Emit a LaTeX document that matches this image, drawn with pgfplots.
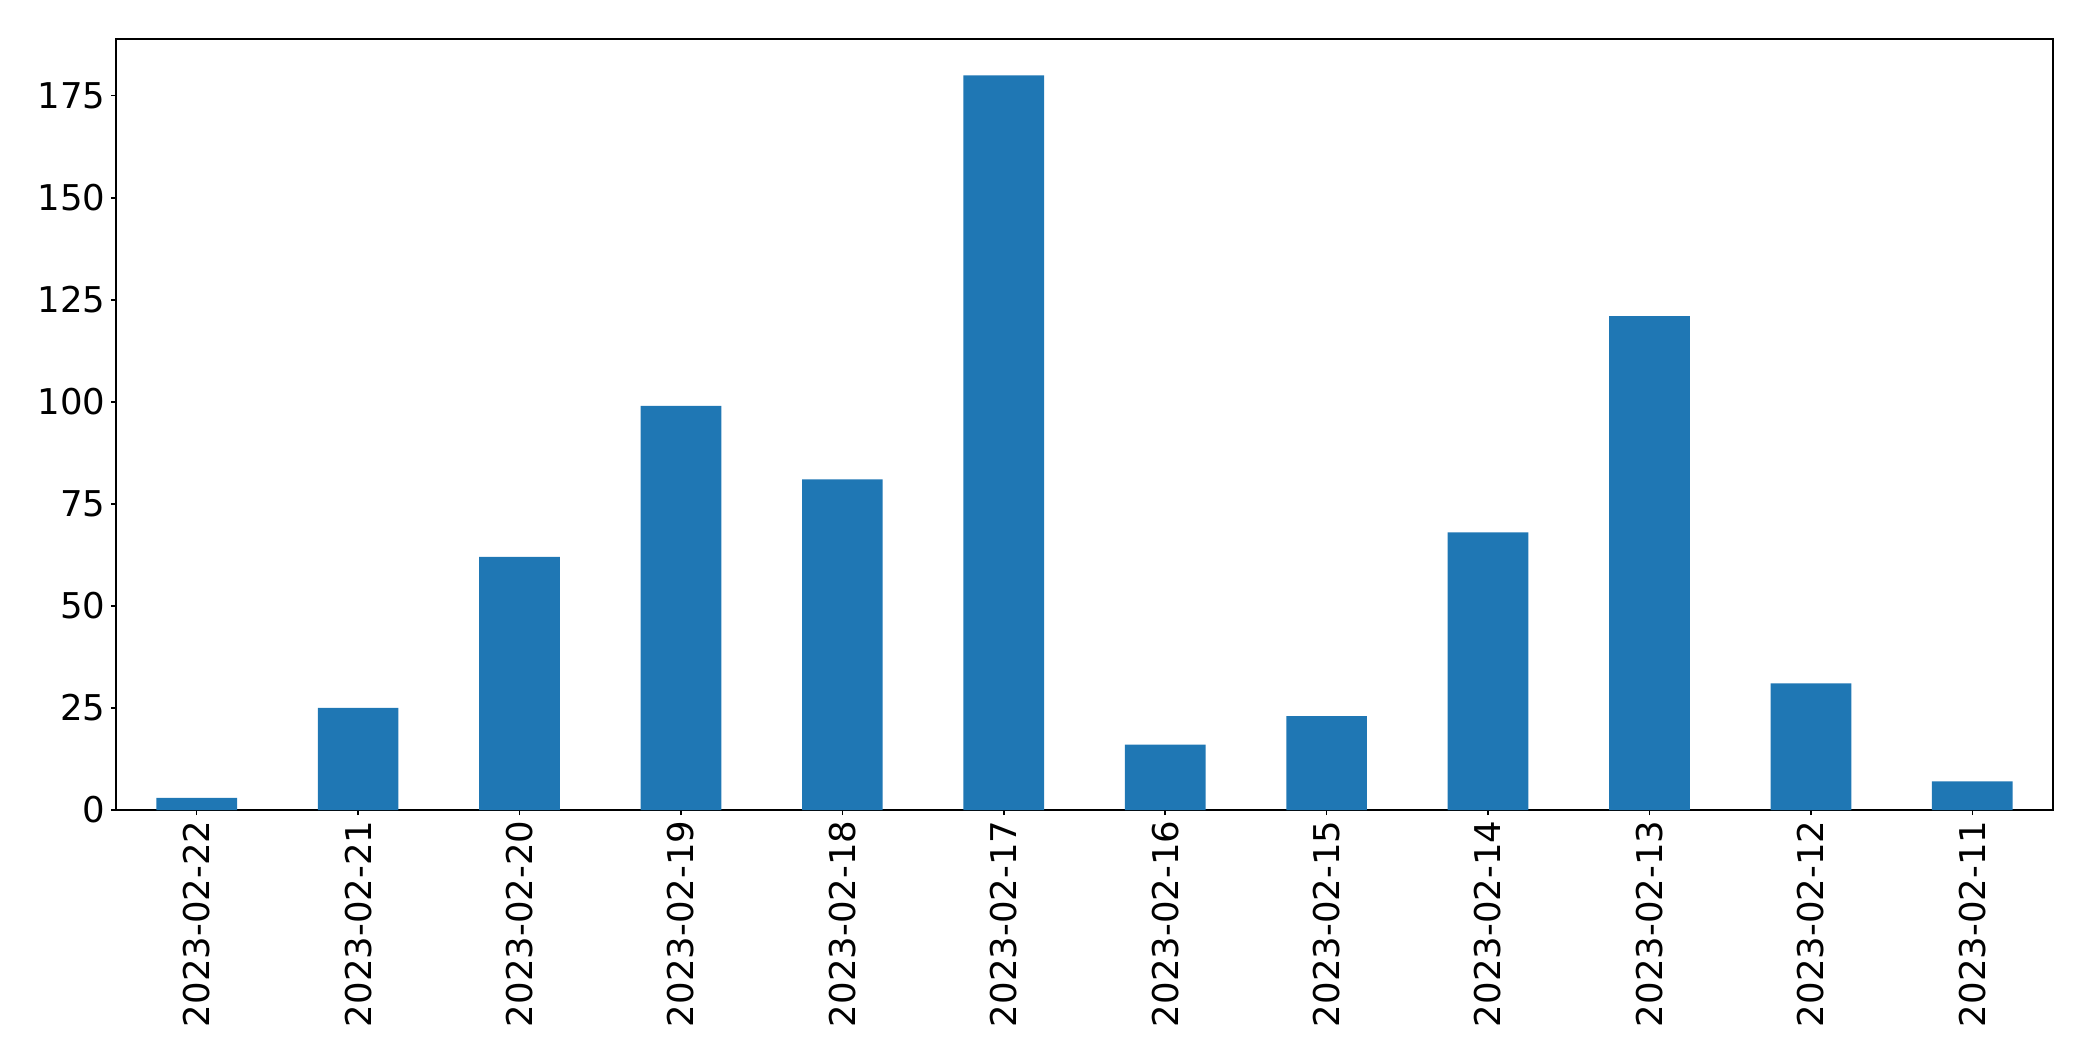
\documentclass[border=0pt]{standalone}
\usepackage{pgfplots}
\pgfplotsset{compat=1.18}
\usepackage{fontspec}
\setmainfont{DejaVu Sans}
\definecolor{mplblue}{HTML}{1F77B4}
\begin{document}
\fontsize{10.1}{12}\selectfont
\begin{tikzpicture}
\begin{axis}[
  at={(0,0)}, anchor=south west,
  scale only axis,
  width=193.7mm, height=77.1mm,
  xmin=-0.5, xmax=11.5,
  ymin=0, ymax=188.9,
  xtick={0,...,11},
  xticklabels={2023-02-22,2023-02-21,2023-02-20,2023-02-19,2023-02-18,2023-02-17,2023-02-16,2023-02-15,2023-02-14,2023-02-13,2023-02-12,2023-02-11},
  x tick label style={rotate=90, anchor=east, inner sep=0.5mm},
  y tick label style={inner sep=0.5mm},
  ytick={0,25,50,75,100,125,150,175},
  tick align=outside,
  tick pos=left,
  major tick length=0.5mm,
  tick style={black, line width=0.15mm},
  axis line style={line width=0.15mm},
  /pgf/number format/assume math mode=true,
  tick label style={font=\fontsize{10.1}{12}\selectfont},
  ybar, bar width=0.5,
]
\addplot[fill=mplblue, draw=none] coordinates {
(0,3) (1,25) (2,62) (3,99) (4,81) (5,180) (6,16) (7,23) (8,68) (9,121) (10,31) (11,7)};
\end{axis}
\pgfresetboundingbox
\useasboundingbox (-11.6mm,-25.1mm) rectangle (197.7mm,81.0mm);
\end{tikzpicture}
\end{document}
